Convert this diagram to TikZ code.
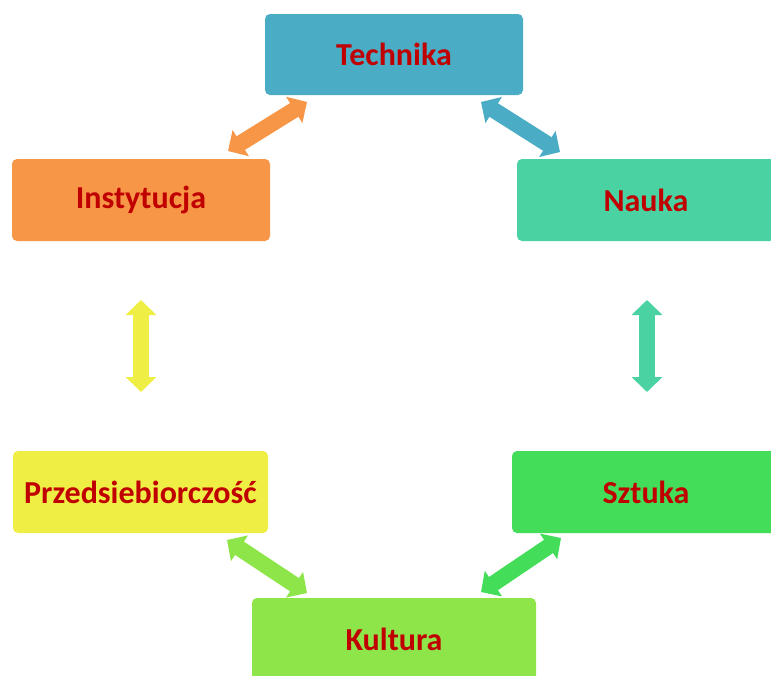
\documentclass[tikz,border=0pt]{standalone}
\usepackage{fontspec}
\setmainfont{Carlito}
\usetikzlibrary{arrows.meta}
\definecolor{cTech}{HTML}{4BACC6}
\definecolor{cInst}{HTML}{F79646}
\definecolor{cNauka}{HTML}{4AD2A2}
\definecolor{cPrz}{HTML}{EEEE44}
\definecolor{cSzt}{HTML}{44DD5A}
\definecolor{cKult}{HTML}{8EE54A}
\definecolor{txtred}{HTML}{C00000}
\tikzset{
  box/.style={draw=none, rounded corners=5pt, inner sep=0pt, minimum height=82pt,
    font=\fontsize{32}{36}\selectfont\bfseries, text=txtred},
  dbl/.style={line width=16pt, line cap=butt,
    {Triangle[width=30pt,length=15pt]}-{Triangle[width=30pt,length=15pt]}, draw=#1}
}
\begin{document}
\begin{tikzpicture}[x=1pt,y=-1pt]
\useasboundingbox (0,0) rectangle (771,675);
\node[box, fill=cTech, minimum width=258pt, minimum height=81pt] (tech) at (394,54.5) {Technika};
\node[box, fill=cInst, minimum width=258pt] (inst) at (141,200) {Instytucja};
\node[box, fill=cNauka, minimum width=258pt] (nauka) at (646,200) {Nauka};
\node[box, fill=cPrz, minimum width=255pt] (prz) at (140.5,492) {Przedsiebiorczość};
\node[box, fill=cSzt, minimum width=268pt] (szt) at (646,492) {Sztuka};
\node[box, fill=cKult, minimum width=284pt] (kult) at (394,639) {Kultura};
\coordinate (o1) at (228,151);
\coordinate (o2) at (307,102);
\coordinate (b1) at (481,102);
\coordinate (b2) at (560,152);
\coordinate (y1) at (141,300);
\coordinate (y2) at (141,392);
\coordinate (t1) at (647,300);
\coordinate (t2) at (647,392);
\coordinate (l1) at (227,540);
\coordinate (l2) at (307,593);
\coordinate (g1) at (561,538);
\coordinate (g2) at (481,592);
\draw[dbl=cInst] (o1) -- (o2);
\draw[dbl=cTech] (b1) -- (b2);
\draw[dbl=cPrz] (y1) -- (y2);
\draw[dbl=cNauka] (t1) -- (t2);
\draw[dbl=cKult] (l1) -- (l2);
\draw[dbl=cSzt] (g1) -- (g2);
\end{tikzpicture}
\end{document}
